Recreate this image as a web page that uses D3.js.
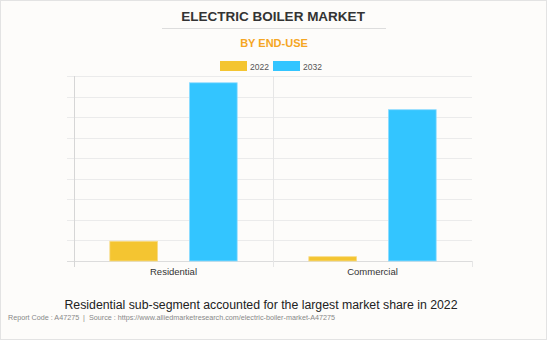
<!DOCTYPE html>
<html><head><meta charset="utf-8">
<script src="https://cdn.jsdelivr.net/npm/d3@7"></script>
<style>
html,body{margin:0;padding:0;background:#fff;}
svg{display:block;font-family:"Liberation Sans",Arial,sans-serif;}
</style></head>
<body>
<svg id="c" width="547" height="340"></svg>
<script>
const categories = ["Residential", "Commercial"];
const seriesNames = ["2022", "2032"];
const values2022 = [0.96, 0.21];
const values2032 = [8.67, 7.36];
const gridTicks = [0,1,2,3,4,5,6,7,8,9];
const colors = ["#F4C531", "#33C5FF"];

(function(){
const svg = d3.select("#c");
svg.append("rect").attr("x",0.5).attr("y",0.5).attr("width",546).attr("height",339)
  .attr("fill","#FDFCFA").attr("stroke","#E3E3E3");

const pl = 74, pr = 472, pt = 76, pb = 261;
const x0 = d3.scaleBand().domain(categories).range([pl, pr]);
const x1 = d3.scaleBand().domain(seriesNames).range([0, x0.bandwidth()]).paddingInner(0.4).paddingOuter(0.45);
const y = d3.scaleLinear().domain([0, 9]).range([pb, pt]);

// gridlines
svg.append("g").selectAll("line").data(gridTicks).join("line")
  .attr("x1", pl - 7).attr("x2", pr)
  .attr("y1", d => Math.round(y(d)) + 0.5).attr("y2", d => Math.round(y(d)) + 0.5)
  .attr("stroke", d => d === 0 ? "#DCDCDC" : "#EBEBEB").attr("stroke-width", 1);

// category boundary lines
const bounds = [pl, pl + x0.bandwidth(), pr];
svg.append("g").selectAll("line").data(bounds).join("line")
  .attr("x1", d => Math.round(d) + 0.5).attr("x2", d => Math.round(d) + 0.5)
  .attr("y1", (d,i) => i === 2 ? pb : pt).attr("y2", pb + 6)
  .attr("stroke", (d,i) => i===0 ? "#D6D6D6" : "#E6E6E6");

// bars
const data = categories.map((c,i) => ({cat:c, vals:[values2022[i], values2032[i]]}));
const g = svg.append("g").selectAll("g").data(data).join("g")
  .attr("transform", d => `translate(${x0(d.cat)},0)`);
g.selectAll("rect").data(d => d.vals.map((v,j)=>({s:seriesNames[j], v, j}))).join("rect")
  .attr("x", d => x1(d.s)).attr("width", x1.bandwidth())
  .attr("y", d => y(d.v)).attr("height", d => y(0) - y(d.v))
  .attr("fill", d => colors[d.j])
  .attr("stroke", d => d.j === 0 ? "#F8DC86" : "#8EDCFF").attr("stroke-width", 0.8);

// x labels
svg.append("g").selectAll("text").data(categories).join("text")
  .attr("x", d => x0(d) + x0.bandwidth()/2).attr("y", 275)
  .attr("text-anchor","middle").attr("font-size", 9.5).attr("fill","#333")
  .text(d => d);

// title
svg.append("text").attr("x", 273).attr("y", 21).attr("text-anchor","middle")
  .attr("font-size", 13.5).attr("font-weight","bold").attr("fill","#333")
  .text("ELECTRIC BOILER MARKET");
svg.append("line").attr("x1",162).attr("x2",386).attr("y1",28.5).attr("y2",28.5)
  .attr("stroke","#DDDDDD");
svg.append("text").attr("x", 274).attr("y", 47).attr("text-anchor","middle")
  .attr("font-size", 11).attr("font-weight","bold").attr("fill","#F5A623")
  .text("BY END-USE");

// legend
const lg = svg.append("g").selectAll("g").data(seriesNames).join("g")
  .attr("transform", (d,i) => `translate(${220 + i*53},61)`);
lg.append("rect").attr("width",27).attr("height",10).attr("fill",(d,i)=>colors[i]);
lg.append("text").attr("x",30).attr("y",8.5).attr("font-size",8.5).attr("fill","#555").text(d=>d);

// bottom text
svg.append("text").attr("x", 261).attr("y", 309).attr("text-anchor","middle")
  .attr("font-size", 12.3).attr("fill","#222")
  .text("Residential sub-segment accounted for the largest market share in 2022");
svg.append("text").attr("x", 8).attr("y", 320)
  .attr("font-size", 7.2).attr("fill","#888").attr("xml:space","preserve")
  .text("Report Code : A47275  |  Source : https://www.alliedmarketresearch.com/electric-boiler-market-A47275");
})();
</script>
</body></html>
